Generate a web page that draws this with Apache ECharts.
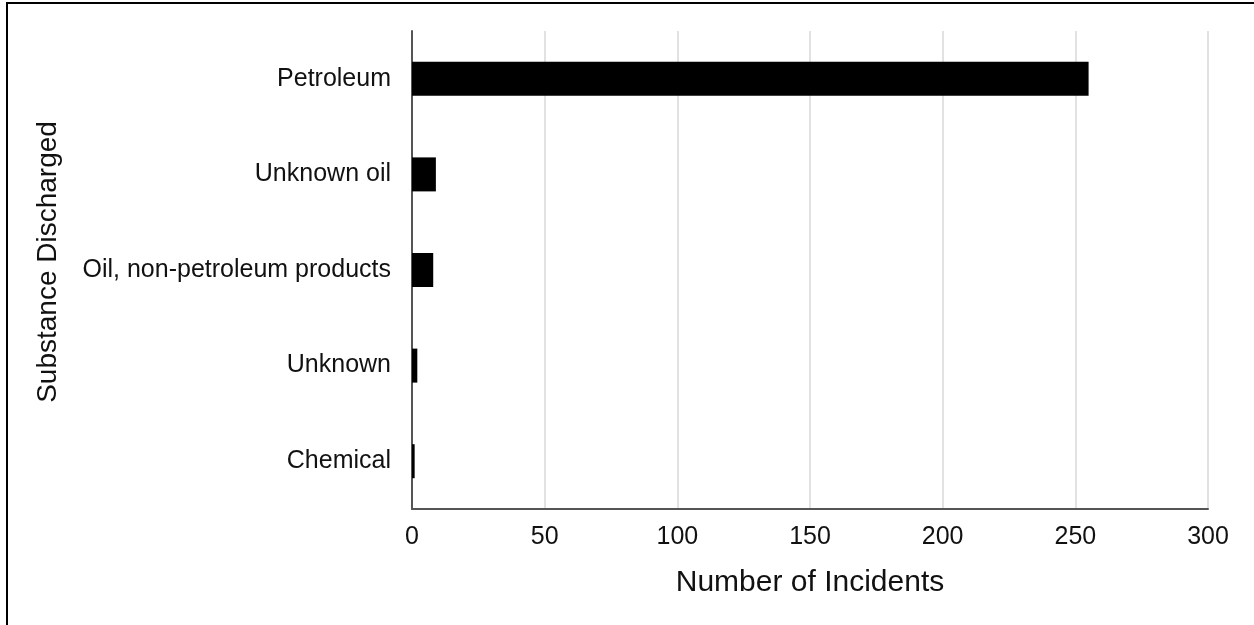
<!DOCTYPE html>
<html>
<head>
<meta charset="utf-8">
<script src="https://cdn.jsdelivr.net/npm/echarts@6/dist/echarts.min.js"></script>
<style>
html,body{margin:0;padding:0;background:#fff;}
#frame{position:absolute;left:6px;top:2px;width:1248px;height:623px;border-top:2px solid #000;border-left:2px solid #000;box-sizing:border-box;}
#chart{position:absolute;left:0;top:0;width:1254px;height:625px;}
</style>
</head>
<body>
<div id="frame"></div>
<div id="chart"></div>
<script>
const categories = ["Petroleum", "Unknown oil", "Oil, non-petroleum products", "Unknown", "Chemical"];
const incidents = [255, 9, 8, 2, 1];
const xTicks = [0, 50, 100, 150, 200, 250, 300];

const chart = echarts.init(document.getElementById('chart'), null, {renderer: 'canvas'});
const font = 'Liberation Sans, Arial, sans-serif';
chart.setOption({
  backgroundColor: 'transparent',
  animation: false,
  grid: {left: 412, right: 46, top: 31, bottom: 116, containLabel: false},
  xAxis: {
    type: 'value',
    min: xTicks[0], max: xTicks[xTicks.length - 1], interval: 50,
    name: 'Number of Incidents',
    nameLocation: 'middle',
    nameGap: 59,
    nameTextStyle: {fontFamily: font, fontSize: 30, color: '#111'},
    axisLine: {show: true, lineStyle: {color: '#555', width: 2}},
    axisTick: {show: false},
    axisLabel: {fontFamily: font, fontSize: 25, color: '#111', margin: 16},
    splitLine: {show: true, lineStyle: {color: '#d9d9d9', width: 1.5}}
  },
  yAxis: {
    type: 'category',
    data: categories,
    inverse: true,
    name: 'Substance Discharged',
    nameLocation: 'middle',
    nameGap: 350,
    nameTextStyle: {fontFamily: font, fontSize: 28, color: '#111', padding: [0, 0, 0, 16]},
    axisLine: {show: true, lineStyle: {color: '#555', width: 2}},
    axisTick: {show: false},
    axisLabel: {fontFamily: font, fontSize: 25, color: '#111', margin: 21},
    splitLine: {show: false}
  },
  series: [{
    type: 'bar',
    data: incidents,
    barWidth: 34,
    itemStyle: {color: '#000'}
  }]
});
</script>
</body>
</html>
